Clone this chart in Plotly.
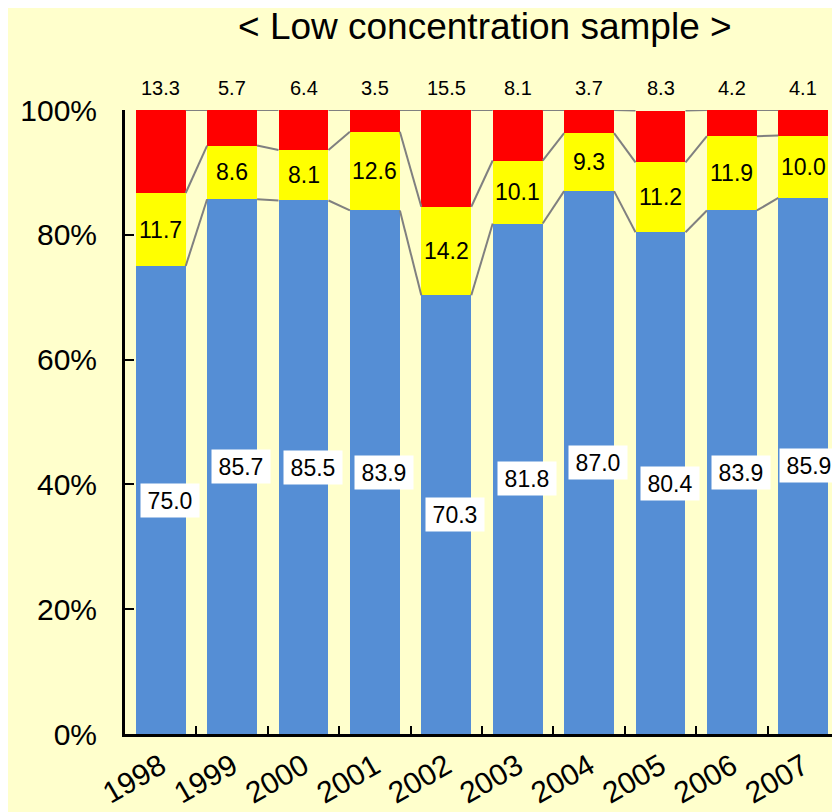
import plotly.graph_objects as go

years = ["1998", "1999", "2000", "2001", "2002", "2003", "2004", "2005", "2006", "2007"]
blue_vals = [75.0, 85.7, 85.5, 83.9, 70.3, 81.8, 87.0, 80.4, 83.9, 85.9]
yellow_vals = [11.7, 8.6, 8.1, 12.6, 14.2, 10.1, 9.3, 11.2, 11.9, 10.0]
red_vals = [13.3, 5.7, 6.4, 3.5, 15.5, 8.1, 3.7, 8.3, 4.2, 4.1]
title_text = "&lt; Low concentration sample &gt;"

BLUE = "#558ED5"
YELLOW = "#FFFF00"
RED = "#FF0000"
BG = "#FFFFCC"
W = 0.70
FONT = "Arial, Liberation Sans, sans-serif"

FW, FH = 832, 804  # page body has an 8px margin
T, B = 102, 78
PH = FH - T - B

xs = list(range(len(years)))
fig = go.Figure()
for vals, col in [(blue_vals, BLUE), (yellow_vals, YELLOW), (red_vals, RED)]:
    fig.add_trace(go.Bar(x=xs, y=vals, width=W, marker=dict(color=col, line=dict(width=0)),
                         showlegend=False, hoverinfo="skip"))

# connector lines between bars
lvl1 = blue_vals
lvl2 = [b + y for b, y in zip(blue_vals, yellow_vals)]
lvl3 = [b + y + r for b, y, r in zip(blue_vals, yellow_vals, red_vals)]
for lv in (lvl1, lvl2, lvl3):
    lx, ly = [], []
    for i in range(len(xs) - 1):
        lx += [xs[i] + W / 2, xs[i + 1] - W / 2, None]
        ly += [lv[i], lv[i + 1], None]
    fig.add_trace(go.Scatter(x=lx, y=ly, mode="lines", line=dict(color="#808080", width=2),
                             showlegend=False, hoverinfo="skip"))

# labels
for i, x in enumerate(xs):
    fig.add_annotation(x=x, y=blue_vals[i] / 2, text=f"{blue_vals[i]:.1f}", showarrow=False,
                       bgcolor="white", width=52, height=27, borderpad=3,
                       xshift=9 if i < len(xs) - 1 else 6,
                       font=dict(family=FONT, size=23, color="black"))
    fig.add_annotation(x=x, y=blue_vals[i] + yellow_vals[i] / 2, text=f"{yellow_vals[i]:.1f}",
                       showarrow=False, font=dict(family=FONT, size=23, color="black"))
    fig.add_annotation(x=x, y=100, yanchor="bottom", yshift=9, text=f"{red_vals[i]:.1f}",
                       showarrow=False, font=dict(family=FONT, size=20, color="black"))

# title as annotation
fig.add_annotation(xref="paper", yref="paper", x=(477 - 117) / (FW - 117 - 1),
                   y=1 + (T - 18) / PH, xanchor="center", yanchor="middle",
                   text=title_text, showarrow=False,
                   font=dict(family=FONT, size=37, color="black"))

fig.update_layout(
    width=FW, height=FH,
    margin=dict(l=117, r=1, t=T, b=B),
    paper_bgcolor=BG, plot_bgcolor=BG,
    barmode="stack", bargap=0,
    font=dict(family=FONT, color="black"),
)
fig.update_xaxes(range=[-0.5, 9.5], tickvals=xs, ticktext=years, tickangle=-30,
                 tickfont=dict(family=FONT, size=30, color="black"),
                 showline=True, linecolor="black", linewidth=3, ticks="",
                 minor=dict(tickvals=[i + 0.5 for i in xs[:-1]], ticks="inside", ticklen=8,
                            tickcolor="black", tickwidth=2),
                 showgrid=False, zeroline=False, automargin=False)
fig.update_yaxes(range=[0, 100], tickvals=[0, 20, 40, 60, 80, 100],
                 ticktext=["0%", "20%", "40%", "60%", "80%", "100%"],
                 tickfont=dict(family=FONT, size=30, color="black"),
                 showline=True, linecolor="black", linewidth=3, ticks="inside", ticklen=9,
                 tickcolor="black", tickwidth=2, ticklabelstandoff=19,
                 showgrid=False, zeroline=False, automargin=False)

fig.write_html("out.html")
